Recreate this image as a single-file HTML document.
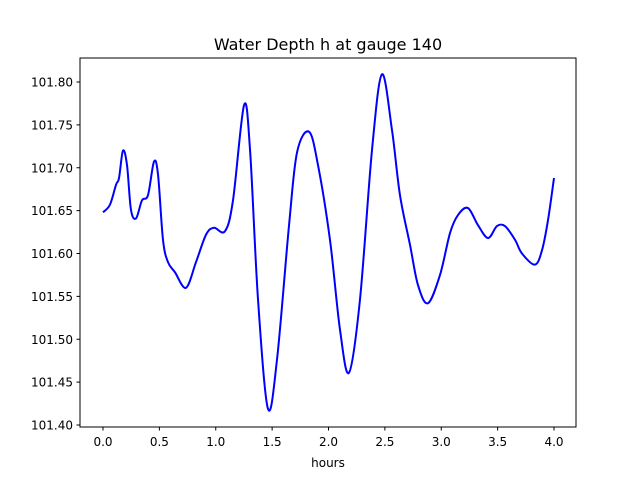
<!DOCTYPE html>
<html><head><meta charset="utf-8"><style>
body{margin:0;background:#fff}
svg text{font-family:"DejaVu Sans","Liberation Sans",sans-serif;fill:#000}
</style></head><body>
<svg id="chart" width="640" height="480">
<rect width="640" height="480" fill="#fff"/>
<text x="328" y="50" font-size="16" text-anchor="middle">Water Depth h at gauge 140</text>
<g id="ticks"></g>
<path id="line" fill="none" stroke="#0000ff" stroke-width="2" stroke-linejoin="round"/>
<rect x="80" y="58" width="496" height="369" fill="none" stroke="#000" stroke-width="1"/>
<text x="328" y="467" font-size="12" text-anchor="middle">hours</text>
</svg>
<script>
const hours=[0,.062,.115,.142,.177,.213,.248,.293,.346,.399,.452,.488,.532,.576,.639,.736,.825,.914,.984,1.082,1.153,1.251,1.304,1.375,1.463,1.543,1.650,1.721,1.827,1.907,2.013,2.102,2.182,2.279,2.386,2.474,2.563,2.634,2.723,2.794,2.882,2.989,3.078,3.149,3.237,3.326,3.415,3.494,3.565,3.654,3.716,3.831,3.894,3.947,4.0];
const depth=[101.648,101.657,101.680,101.688,101.720,101.703,101.651,101.641,101.662,101.668,101.707,101.692,101.616,101.590,101.578,101.560,101.590,101.622,101.630,101.626,101.662,101.773,101.721,101.546,101.419,101.476,101.633,101.718,101.742,101.703,101.616,101.511,101.461,101.546,101.721,101.809,101.744,101.668,101.610,101.563,101.542,101.575,101.624,101.645,101.653,101.633,101.618,101.632,101.632,101.616,101.600,101.587,101.604,101.639,101.688];
const xTicks=[0,0.5,1,1.5,2,2.5,3,3.5,4];
const yTicks=[101.40,101.45,101.50,101.55,101.60,101.65,101.70,101.75,101.80];
const xs=h=>103+h*112.75;
const ys=v=>425-(v-101.40)*857.5;
const NS="http://www.w3.org/2000/svg";
const g=document.getElementById('ticks');
xTicks.forEach(t=>{
  const l=document.createElementNS(NS,'line');
  l.setAttribute('x1',xs(t));l.setAttribute('x2',xs(t));l.setAttribute('y1',427);l.setAttribute('y2',430.5);l.setAttribute('stroke','#000');
  
  
  g.appendChild(l);
  const tx=document.createElementNS(NS,'text');
  tx.setAttribute('x',xs(t));tx.setAttribute('y',446);tx.setAttribute('font-size','12');tx.setAttribute('text-anchor','middle');
  tx.textContent=t.toFixed(1);
  
  
  g.appendChild(tx);
});
yTicks.forEach(t=>{
  const l=document.createElementNS(NS,'line');
  l.setAttribute('x1',76.5);l.setAttribute('x2',80);l.setAttribute('y1',ys(t));l.setAttribute('y2',ys(t));l.setAttribute('stroke','#000');
  
  
  g.appendChild(l);
  const tx=document.createElementNS(NS,'text');
  tx.setAttribute('x',73);tx.setAttribute('y',ys(t)+4.5);tx.setAttribute('font-size','12');tx.setAttribute('text-anchor','end');
  tx.textContent=t.toFixed(2);
  
  
  g.appendChild(tx);
});
const P=hours.map((h,i)=>[xs(h),ys(depth[i])]);
let d=`M${P[0][0]},${P[0][1]}`;
for(let i=0;i<P.length-1;i++){
  const p0=P[i-1]||P[i],p1=P[i],p2=P[i+1],p3=P[i+2]||P[i+1];
  const c1=[p1[0]+(p2[0]-p0[0])/6,p1[1]+(p2[1]-p0[1])/6];
  const c2=[p2[0]-(p3[0]-p1[0])/6,p2[1]-(p3[1]-p1[1])/6];
  d+=` C${c1[0]},${c1[1]} ${c2[0]},${c2[1]} ${p2[0]},${p2[1]}`;
}
document.getElementById('line').setAttribute('d',d);
</script>
</body></html>
